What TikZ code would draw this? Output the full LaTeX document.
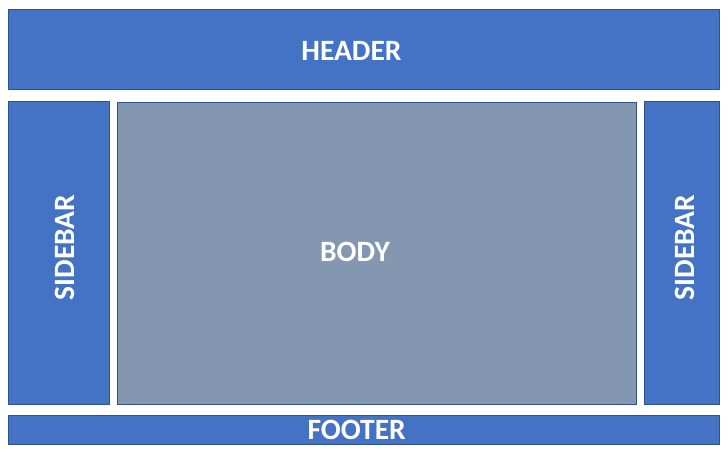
\documentclass[tikz,border=0pt]{standalone}
\usepackage{fontspec}
\setmainfont{Carlito}
\definecolor{boxblue}{HTML}{4472C4}
\definecolor{boxedge}{HTML}{2F528F}
\definecolor{bodygray}{HTML}{8497B0}
\begin{document}
\begin{tikzpicture}[x=1pt,y=-1pt,
  panel/.style={draw=boxedge,line width=1pt,fill=boxblue,inner sep=0pt,outer sep=0pt,rectangle},
  lbl/.style={text=white,font=\fontsize{29.5}{34}\selectfont\bfseries,inner sep=0pt}]
\useasboundingbox (0,0) rectangle (728,455);
\fill[white] (0,0) rectangle (728,455);
\node[panel,minimum width=711.7pt,minimum height=80pt] (header) at (363.85,49.3) {};
\node[panel,minimum width=101.7pt,minimum height=302.7pt] (sidebarL) at (58.85,252.65) {};
\node[panel,fill=bodygray,minimum width=519.4pt,minimum height=302pt] (body) at (377,253) {};
\node[panel,minimum width=75.4pt,minimum height=302.7pt] (sidebarR) at (682,252.65) {};
\node[panel,minimum width=711.7pt,minimum height=29pt] (footer) at (363.85,429.8) {};
\node[lbl] (tH) at (351.5,51) {HEADER};
\node[lbl,rotate=90] (tSL) at (65,247.5) {SIDEBAR};
\node[lbl] (tB) at (355,251.5) {BODY};
\node[lbl,rotate=90] (tSR) at (685,247.5) {SIDEBAR};
\node[lbl] (tF) at (356.7,430) {FOOTER};
\end{tikzpicture}
\end{document}
